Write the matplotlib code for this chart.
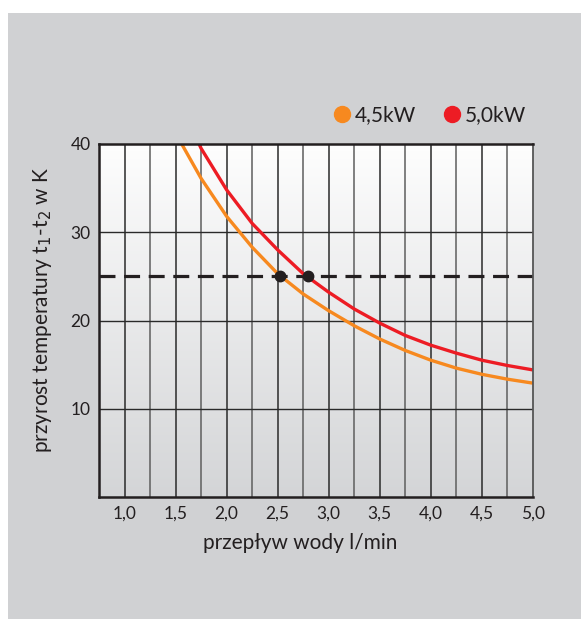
import matplotlib
matplotlib.use("Agg")
import matplotlib.pyplot as plt
import numpy as np
from matplotlib.patches import Rectangle

plt.rcParams['font.family'] = ['Lato', 'DejaVu Sans']

# data
flow_45 = [1.56, 1.75, 2.0, 2.25, 2.5, 2.75, 3.0, 3.25, 3.5, 3.75, 4.0, 4.25, 4.5, 4.75, 5.0]
temp_45 = [40.0, 36.1, 31.8, 28.3, 25.3, 23.0, 21.1, 19.4, 17.9, 16.6, 15.5, 14.6, 13.9, 13.35, 12.9]
flow_50 = [1.73, 1.75, 2.0, 2.25, 2.5, 2.75, 3.0, 3.25, 3.5, 3.75, 4.0, 4.25, 4.5, 4.75, 5.0]
temp_50 = [40.0, 39.5, 34.8, 31.0, 28.0, 25.3, 23.2, 21.3, 19.7, 18.3, 17.2, 16.3, 15.5, 14.9, 14.4]
ref_temp = 25
dot_flow = [2.52, 2.80]
dot_temp = [25, 25]
series_labels = ['4,5kW', '5,0kW']
x_ticks = [1.0, 1.5, 2.0, 2.5, 3.0, 3.5, 4.0, 4.5, 5.0]
x_ticklabels = ['1,0', '1,5', '2,0', '2,5', '3,0', '3,5', '4,0', '4,5', '5,0']
y_ticks = [10, 20, 30, 40]

ORANGE = '#f7891f'
RED = '#ed1c24'
DARK = '#231f20'

W, H = 581, 619
fig = plt.figure(figsize=(W / 100, H / 100), dpi=100, facecolor='white')
fig.patches.append(Rectangle((8 / W, 0), 1 - 8 / W, 1 - 13 / H, transform=fig.transFigure,
                             facecolor='#d0d1d3', edgecolor='none', zorder=-10))

ax = fig.add_axes([99 / W, 1 - 497 / H, (533 - 99) / W, (497 - 144) / H])
ax.set_xlim(0.75, 5.0)
ax.set_ylim(0, 40)

# gradient background
grad = np.linspace(0, 1, 256).reshape(-1, 1)
top = np.array([0.83, 0.835, 0.843])
bot = np.array([0.995, 0.995, 0.995])
img = top[None, None, :] * (1 - grad[:, :, None]) + bot[None, None, :] * grad[:, :, None]
ax.imshow(img, extent=[0.75, 5.0, 40, 0], aspect='auto', zorder=0, origin='upper')

# grid
for xv in np.arange(1.0, 5.0, 0.25):
    major = abs((xv * 2) - round(xv * 2)) < 1e-9
    ax.axvline(xv, color='#2a2a2a' if major else '#5e5e5e', lw=1.1, zorder=1)
for yv in [10, 20, 30]:
    ax.axhline(yv, color='#2a2a2a', lw=1.0, zorder=1)

ax.axhline(ref_temp, color=DARK, lw=2.3, dashes=(5.0, 2.7), zorder=3)
ax.plot(flow_45, temp_45, color=ORANGE, lw=2.4, zorder=4, solid_capstyle='butt', solid_joinstyle='round')
ax.plot(flow_50, temp_50, color=RED, lw=2.4, zorder=4, solid_capstyle='butt', solid_joinstyle='round')
ax.plot(dot_flow, dot_temp, 'o', color=DARK, ms=7.5, zorder=5)

for side in ['left', 'bottom', 'top']:
    ax.spines[side].set_color(DARK)
    ax.spines[side].set_linewidth(1.8)
ax.spines['right'].set_color('#555555')
ax.spines['right'].set_linewidth(1.3)
for s in ax.spines.values():
    s.set_zorder(6)

ax.set_xticks(x_ticks)
ax.set_xticklabels(x_ticklabels)
ax.set_yticks(y_ticks)
ax.tick_params(length=0, labelsize=12.5, colors='#231f20', pad=6)

fig.text(300 / W, 1 - 543 / H, 'przepływ wody l/min', ha='center', va='center',
         fontsize=15, color='#231f20')
fig.text(43 / W, 1 - 310 / H, 'przyrost temperatury t$_1$-t$_2$ w K', ha='center', va='center',
         rotation=90, fontsize=15, color='#231f20')

# legend
leg_y = 1 - 114 / H
leg_base = 1 - 121.5 / H
for cx, tx, lab, col in [(341.7, 355, series_labels[0], ORANGE), (451.7, 465, series_labels[1], RED)]:
    ax.plot([cx / W], [leg_y], 'o', color=col, ms=11.5, transform=fig.transFigure, clip_on=False)
    fig.text(tx / W, leg_base, lab, ha='left', va='baseline', fontsize=15, color='#231f20')

fig.savefig('out.png', dpi=100, facecolor='white')
